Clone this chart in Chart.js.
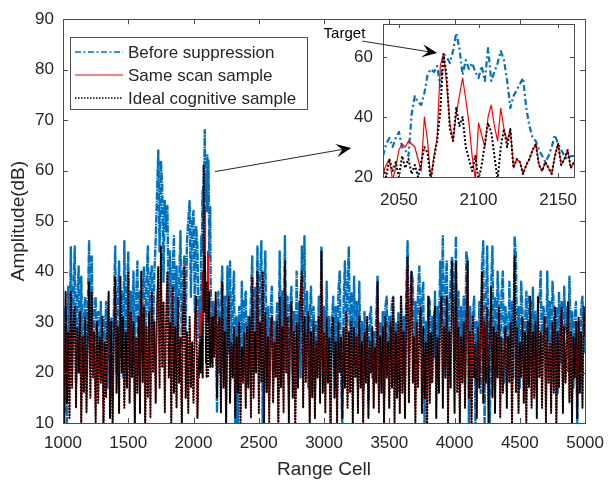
<!DOCTYPE html>
<html>
<head>
<meta charset="utf-8">
<script src="https://cdn.jsdelivr.net/npm/chart.js@4.4.1/dist/chart.umd.min.js"></script>
<style>
  body { margin: 0; background: #fff; }
  #wrap { position: relative; width: 614px; height: 487px; }
  #main { position: absolute; left: 0; top: 0; }
  #inset { position: absolute; left: 310px; top: 0; }
</style>
</head>
<body>
<div id="wrap">
  <canvas id="main" width="614" height="487"></canvas>
  <canvas id="inset" width="290" height="215"></canvas>
</div>
<script>
// main trace, read every 10 range cells from 1000 to 5000
const firstCell = 1000;
const cellStep = 10;

const beforeSuppression = [
  37,12,33,9,37,22,45,24,35,45,18,34,41,20,39,23,32,35,19,33,
  46,21,43,25,31,35,18,32,22,34,19,31,24,34,17,30,22,31,15,33,
  45,20,34,42,23,36,19,46,25,35,44,21,36,24,40,22,35,42,20,36,
  24,37,41,22,38,45,26,39,41,25,40,46,55,64,44,62,57,38,54,48,
  53,30,44,27,40,47,26,41,24,38,48,25,39,43,28,46,50,54,35,50,
  52,32,49,45,27,35,46,55,61,53,52,55,42,37,27,34,27,34,12,36,
  20,33,41,22,35,18,41,24,42,21,34,40,9,31,8,33,16,38,20,34,
  36,18,31,22,35,43,20,37,25,45,23,38,46,9,35,44,21,33,17,32,
  37,19,30,23,34,16,44,24,36,21,47,26,35,18,33,37,20,32,15,40,
  22,34,19,45,26,47,21,36,17,31,37,20,33,15,30,24,35,19,45,23,
  33,18,38,22,31,9,30,35,20,33,17,36,40,21,8,34,42,24,37,45,
  22,36,19,39,25,34,18,38,21,30,16,32,23,29,14,31,33,19,28,22,
  31,39,17,30,22,32,15,33,35,20,31,24,34,35,18,30,21,32,16,35,
  23,31,19,36,46,24,33,40,38,20,34,22,36,41,25,35,38,8,30,21,
  35,34,18,31,23,36,20,33,26,42,30,47,24,37,42,21,33,38,43,40,
  22,47,25,36,19,33,24,35,18,44,42,9,33,20,31,35,10,30,22,34,
  16,41,46,9,33,45,20,8,37,45,23,35,19,40,32,24,36,40,18,33,
  30,21,38,25,34,19,47,43,22,33,17,38,32,24,30,36,18,35,34,21,
  37,23,32,17,35,34,40,22,33,31,19,40,26,34,18,38,33,21,33,16,
  36,22,34,19,37,28,33,20,39,25,32,17,31,34,8,30,22,33,35,24,
  32
];

// outside the target window the same scan and ideal cognitive samples lie on top of each other
const afterSuppression = [
  32,9,36,14,28,11,36,17,30,33,13,29,20,32,9,27,16,31,12,26,
  38,15,36,19,28,10,30,14,27,18,31,8,26,15,29,36,11,30,9,27,
  39,16,29,12,39,20,31,13,28,17,40,14,32,19,30,9,27,16,31,12,
  40,18,33,8,29,15,32,11,36,20,30,14,33,41,17,45,21,34,12,31,
  40,19,30,10,37,16,29,13,35,18,27,9,31,41,15,28,12,31,17,26,
  14,30,35,11,22,20,25,30,58,38,22,28,30,25,24,27,23,36,15,29,
  31,12,38,17,28,9,30,35,14,26,19,29,11,27,16,30,10,25,18,28,
  13,29,17,31,11,39,15,28,20,40,12,30,18,40,9,32,16,27,10,29,
  31,14,26,19,30,8,35,17,29,12,42,20,31,10,27,34,15,28,9,30,
  17,29,36,40,13,31,18,26,32,9,28,15,30,11,26,19,31,14,44,16,
  28,12,31,18,27,10,29,31,15,26,9,30,20,27,11,29,17,32,13,28,
  16,30,10,29,19,27,12,31,17,26,9,28,18,31,11,26,20,29,13,25,
  18,38,12,27,16,29,9,31,19,26,13,30,17,35,10,28,15,30,12,35,
  16,28,11,31,43,14,29,40,18,27,10,30,17,28,33,12,29,15,26,9,
  35,14,28,18,30,33,11,27,16,31,35,13,29,19,35,10,28,17,42,30,
  12,42,16,29,10,27,18,30,13,30,42,15,28,9,31,19,26,11,29,17,
  28,40,14,30,18,33,10,27,37,15,29,12,28,19,33,11,27,16,24,29,
  13,27,18,30,9,28,43,16,29,12,26,19,31,14,28,10,30,17,35,13,
  28,15,30,11,35,19,28,13,27,31,10,29,18,26,12,30,16,33,9,28,
  17,27,33,12,29,18,26,34,14,28,10,27,19,30,11,31,16,28,13,33,
  27
];

// target window 2040..2160, read every 2 cells from the inset
const targetStart = 2040;
const targetStep = 2;

const targetBefore = [
  27,31,33,30,33,35,30,29,27,41,47,45,44,48,54,56,55,57,50,61,
  60,58,62,68,63,54,59,56,58,55,53,57,52,63,52,55,58,62,59,52,
  43,47,49,51,53,43,37,33,32,29,27,25,27,30,34,31,29,27,26,27,27
];
const targetSameScan = [
  21,24,26,19,23,29,31,30,32,31,30,26,22,40,32,19,27,33,57,61,
  51,38,32,41,47,53,46,38,27,19,38,34,30,40,44,37,32,43,36,32,
  36,23,26,25,21,24,26,29,31,24,22,25,23,21,27,31,24,26,29,23,25
];
const targetIdeal = [
  23,20,26,22,25,20,27,23,26,21,24,20,25,30,28,19,26,32,42,61,
  54,36,32,43,37,40,30,26,22,27,19,24,31,38,35,27,19,30,36,30,
  36,23,26,25,21,24,26,29,31,24,22,25,23,21,27,31,24,26,29,23,25
];

const mainXTicks = [1000,1500,2000,2500,3000,3500,4000,4500,5000];
const mainYTicks = [10,20,30,40,50,60,70,80,90];
const insetXTicks = [2050,2100,2150];
const insetYTicks = [20,40,60];

// annotation arrows, in data units
const zoomArrow = { from: [2164, 59.8], to: [3208, 64.5] };
const targetArrow = { from: [2027, 65.3], to: [2074, 61.3] };

const ink = '#262626';
const font = 'Liberation Sans, Arial, Helvetica, sans-serif';
const blue = '#0072bd';
const red = '#ff0000';

const toPoints = (vals, start, step) => vals.map((v, i) => ({ x: start + i * step, y: v }));
const targetEnd = targetStart + (targetBefore.length - 1) * targetStep;

function withTarget(coarse, fine) {
  const outside = toPoints(coarse, firstCell, cellStep).filter(p => p.x < targetStart || p.x > targetEnd);
  return outside.concat(toPoints(fine, targetStart, targetStep)).sort((a, b) => a.x - b.x);
}

function arrow(ctx, x0, y0, x1, y1) {
  const a = Math.atan2(y1 - y0, x1 - x0), c = Math.cos(a), s = Math.sin(a);
  const len = 15, half = 6.5;
  ctx.beginPath();
  ctx.moveTo(x0, y0);
  ctx.lineTo(x1 - len * 0.6 * c, y1 - len * 0.6 * s);
  ctx.stroke();
  ctx.beginPath();
  ctx.moveTo(x1, y1);
  ctx.lineTo(x1 - len * c + half * s, y1 - len * s - half * c);
  ctx.lineTo(x1 - len * 0.6 * c, y1 - len * 0.6 * s);
  ctx.lineTo(x1 - len * c - half * s, y1 - len * s + half * c);
  ctx.closePath();
  ctx.fill();
}

// matlab-like box with inward ticks on all four sides
const frame = {
  id: 'frame',
  beforeDatasetsDraw(chart, args, opts) {
    const a = chart.chartArea;
    chart.ctx.save();
    chart.ctx.fillStyle = '#fff';
    chart.ctx.fillRect(a.left, a.top, a.width, a.height);
    chart.ctx.restore();
  },
  afterDatasetsDraw(chart, args, opts) {
    const { ctx, chartArea: a, scales: { x, y } } = chart;
    const len = opts.tick || 5;
    ctx.save();
    ctx.strokeStyle = '#4d4d4d';
    ctx.lineWidth = 1;
    ctx.beginPath();
    x.ticks.forEach(t => {
      const px = Math.round(x.getPixelForValue(t.value)) + 0.5;
      ctx.moveTo(px, a.bottom); ctx.lineTo(px, a.bottom - len);
      ctx.moveTo(px, a.top); ctx.lineTo(px, a.top + len);
    });
    y.ticks.forEach(t => {
      const py = Math.round(y.getPixelForValue(t.value)) + 0.5;
      ctx.moveTo(a.left, py); ctx.lineTo(a.left + len, py);
      ctx.moveTo(a.right, py); ctx.lineTo(a.right - len, py);
    });
    ctx.stroke();
    ctx.strokeRect(Math.round(a.left) + 0.5, Math.round(a.top) + 0.5, Math.round(a.width), Math.round(a.height));
    ctx.restore();
  }
};

const mainNotes = {
  id: 'mainNotes',
  afterDraw(chart) {
    const { ctx, scales: { x, y } } = chart;
    ctx.save();
    // legend box
    const bx = 70.5, by = 37.5, bw = 237, bh = 72;
    ctx.fillStyle = '#fff';
    ctx.fillRect(bx, by, bw, bh);
    ctx.strokeStyle = '#4d4d4d';
    ctx.lineWidth = 1;
    ctx.strokeRect(bx, by, bw, bh);
    chart.data.datasets.forEach((ds, i) => {
      const ry = 52 + i * 23;
      ctx.strokeStyle = ds.borderColor;
      ctx.lineWidth = Math.min(ds.borderWidth, 1.6);
      ctx.setLineDash(ds.legendDash || ds.borderDash || []);
      ctx.beginPath();
      ctx.moveTo(75, ry); ctx.lineTo(123, ry);
      ctx.stroke();
      ctx.setLineDash([]);
      ctx.fillStyle = ink;
      ctx.font = '17px ' + font;
      ctx.textBaseline = 'middle';
      ctx.fillText(ds.label, 128, ry + 1);
    });
    // arrow toward the inset
    ctx.strokeStyle = '#262626';
    ctx.fillStyle = '#000';
    ctx.lineWidth = 1;
    arrow(ctx, x.getPixelForValue(zoomArrow.from[0]), y.getPixelForValue(zoomArrow.from[1]),
               x.getPixelForValue(zoomArrow.to[0]), y.getPixelForValue(zoomArrow.to[1]));
    ctx.restore();
  }
};

const insetNotes = {
  id: 'insetNotes',
  afterDraw(chart) {
    const { ctx, scales: { x, y } } = chart;
    const x0 = x.getPixelForValue(targetArrow.from[0]), y0 = y.getPixelForValue(targetArrow.from[1]);
    ctx.save();
    ctx.strokeStyle = '#262626';
    ctx.fillStyle = '#000';
    ctx.lineWidth = 1;
    arrow(ctx, x0, y0, x.getPixelForValue(targetArrow.to[0]), y.getPixelForValue(targetArrow.to[1]));
    ctx.fillStyle = '#000';
    ctx.font = '15px ' + font;
    ctx.textAlign = 'right';
    ctx.textBaseline = 'middle';
    ctx.fillText('Target', x0 + 3, y0 - 7);
    ctx.restore();
  }
};

function axis(min, max, ticks, opts) {
  return Object.assign({
    type: 'linear', min: min, max: max,
    afterBuildTicks: s => { s.ticks = ticks.map(v => ({ value: v })); },
    grid: { display: false, drawTicks: false },
    border: { display: false },
    ticks: { color: ink, font: { family: font, size: 17 }, autoSkip: false, maxRotation: 0, callback: v => String(v) }
  }, opts);
}

const common = {
  responsive: false,
  animation: false,
  events: [],
  elements: { point: { radius: 0 }, line: { tension: 0, borderJoinStyle: 'round' } },
  plugins: { legend: { display: false }, tooltip: { enabled: false } }
};

const mainX = axis(1000, 5000, mainXTicks, {
  afterFit: s => { s.height = 64; },
  title: { display: true, text: 'Range Cell', color: ink, font: { family: font, size: 19 }, padding: { top: 0, bottom: 6 } }
});
mainX.ticks.padding = 10;
const mainY = axis(10, 90, mainYTicks, {
  afterFit: s => { s.width = 63; },
  title: { display: true, text: 'Amplitude(dB)', color: ink, font: { family: font, size: 19 }, padding: { top: 7, bottom: 0 } }
});
mainY.ticks.padding = 9;

new Chart(document.getElementById('main'), {
  type: 'line',
  data: {
    datasets: [
      { label: 'Before suppression', data: withTarget(beforeSuppression, targetBefore),
        borderColor: blue, borderWidth: 2.4, borderDash: [8, 1, 1.5, 1], legendDash: [6, 2.5, 2, 2.5], order: 3 },
      { label: 'Same scan sample', data: withTarget(afterSuppression, targetSameScan),
        borderColor: red, borderWidth: 1.2, order: 2 },
      { label: 'Ideal cognitive sample', data: withTarget(afterSuppression, targetIdeal),
        borderColor: '#000', borderWidth: 1.9, borderDash: [2, 1], legendDash: [1.5, 1.5], order: 1 }
    ]
  },
  options: Object.assign({}, common, {
    layout: { padding: { top: 12, right: 22, left: 0, bottom: 0 } },
    scales: { x: mainX, y: mainY }
  }),
  plugins: [frame, mainNotes]
});

const insetX = axis(2040, 2160, insetXTicks, { afterFit: s => { s.height = 38; } });
insetX.ticks.padding = 13;
const insetY = axis(20, 71, insetYTicks, { afterFit: s => { s.width = 73; } });
insetY.ticks.padding = 10;

new Chart(document.getElementById('inset'), {
  type: 'line',
  data: {
    datasets: [
      { data: toPoints(targetBefore, targetStart, targetStep), borderColor: blue, borderWidth: 2.2, borderDash: [6, 3, 2, 3], order: 3 },
      { data: toPoints(targetSameScan, targetStart, targetStep), borderColor: red, borderWidth: 1.2, order: 2 },
      { data: toPoints(targetIdeal, targetStart, targetStep), borderColor: '#000', borderWidth: 2, borderDash: [2, 2], order: 1 }
    ]
  },
  options: Object.assign({}, common, {
    layout: { padding: { top: 24, right: 26, left: 0, bottom: 0 } },
    scales: { x: insetX, y: insetY },
    plugins: { legend: { display: false }, tooltip: { enabled: false }, frame: { tick: 4 } }
  }),
  plugins: [frame, insetNotes]
});
</script>
</body>
</html>
